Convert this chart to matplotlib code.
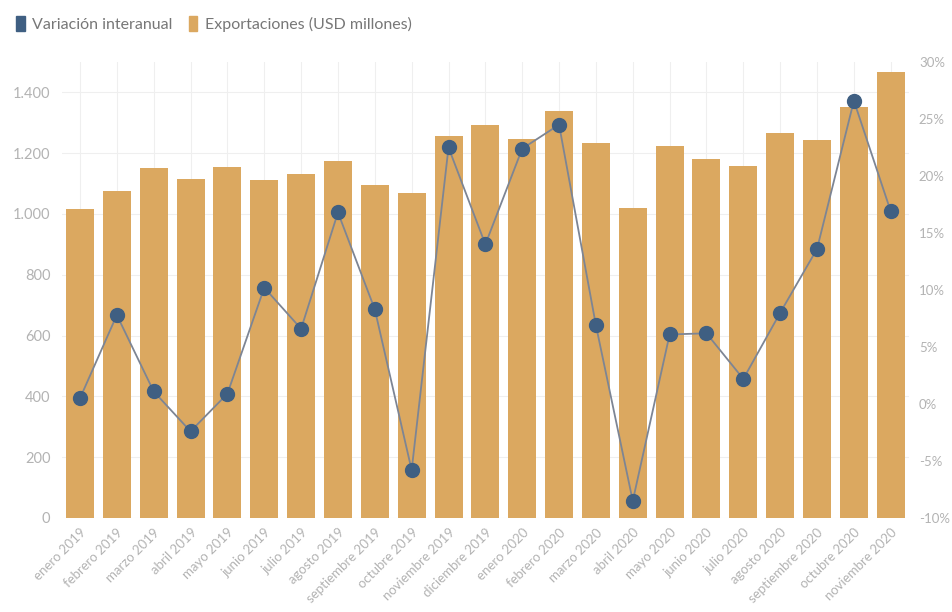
import numpy as np
import matplotlib.pyplot as plt
from matplotlib.patches import Patch
from matplotlib.ticker import FuncFormatter

plt.rcParams['font.family'] = ['Lato', 'DejaVu Sans']

# Datos
meses = ['enero 2019', 'febrero 2019', 'marzo 2019', 'abril 2019', 'mayo 2019',
         'junio 2019', 'julio 2019', 'agosto 2019', 'septiembre 2019', 'octubre 2019',
         'noviembre 2019', 'diciembre 2019', 'enero 2020', 'febrero 2020', 'marzo 2020',
         'abril 2020', 'mayo 2020', 'junio 2020', 'julio 2020', 'agosto 2020',
         'septiembre 2020', 'octubre 2020', 'noviembre 2020']
exportaciones = [1017, 1075, 1152, 1116, 1153, 1111, 1131, 1174, 1097, 1069,
                 1257, 1293, 1247, 1339, 1232, 1020, 1223, 1180, 1157, 1267,
                 1245, 1352, 1467]
variacion = [0.5, 7.8, 1.1, -2.4, 0.9, 10.2, 6.6, 16.8, 8.3, -5.8,
             22.5, 14.0, 22.4, 24.5, 6.9, -8.5, 6.1, 6.2, 2.2, 8.0,
             13.6, 26.6, 16.9]

bar_color = '#DBA860'
line_color = '#7d8594'
dot_color = '#3f5f82'
tick_color = '#b3b3b3'

fig = plt.figure(figsize=(9.53, 6.12), dpi=100)
ax = fig.add_axes([0.0646, 0.1536, 0.8894, 0.7451])
x = np.arange(len(meses))

ax.bar(x, exportaciones, width=0.76, color=bar_color, zorder=2)
ax.set_xlim(-0.5, len(meses) - 0.5)
ax.set_ylim(0, 1500)
ax.set_yticks(np.arange(0, 1401, 200))
ax.yaxis.set_major_formatter(FuncFormatter(lambda v, p: f'{int(v):,}'.replace(',', '.')))
ax.set_xticks(x)
ax.set_xticklabels(meses, rotation=45, ha='right', rotation_mode='anchor')
ax.grid(True, color='#efefef', linewidth=0.8, zorder=0)
ax.set_axisbelow(True)

ax2 = ax.twinx()
ax2.plot(x, variacion, color=line_color, linewidth=1.3, marker='o',
         markersize=10, markerfacecolor=dot_color, markeredgecolor=dot_color, zorder=3)
ax2.set_ylim(-10, 30)
ax2.set_yticks(np.arange(-10, 31, 5))
ax2.yaxis.set_major_formatter(FuncFormatter(lambda v, p: f'{int(v)}%'))

for a in (ax, ax2):
    for s in a.spines.values():
        s.set_visible(False)
    a.tick_params(length=0, colors=tick_color)
ax.tick_params(axis='x', pad=6, labelsize=9.5)
ax.tick_params(axis='y', pad=8, labelsize=10.5)
ax2.tick_params(axis='y', pad=7, labelsize=9.5)

# Leyenda
handles = [Patch(facecolor=dot_color, edgecolor=dot_color),
           Patch(facecolor=bar_color, edgecolor=bar_color)]
fig.legend(handles, ['Variación interanual', 'Exportaciones (USD millones)'],
           loc='upper left', bbox_to_anchor=(0.002, 0.998), ncol=2, frameon=False,
           fontsize=11.5, handlelength=0.55, handleheight=1.1, handletextpad=0.45,
           columnspacing=1.0, labelcolor='#777777')

fig.savefig('out.png', dpi=100)
